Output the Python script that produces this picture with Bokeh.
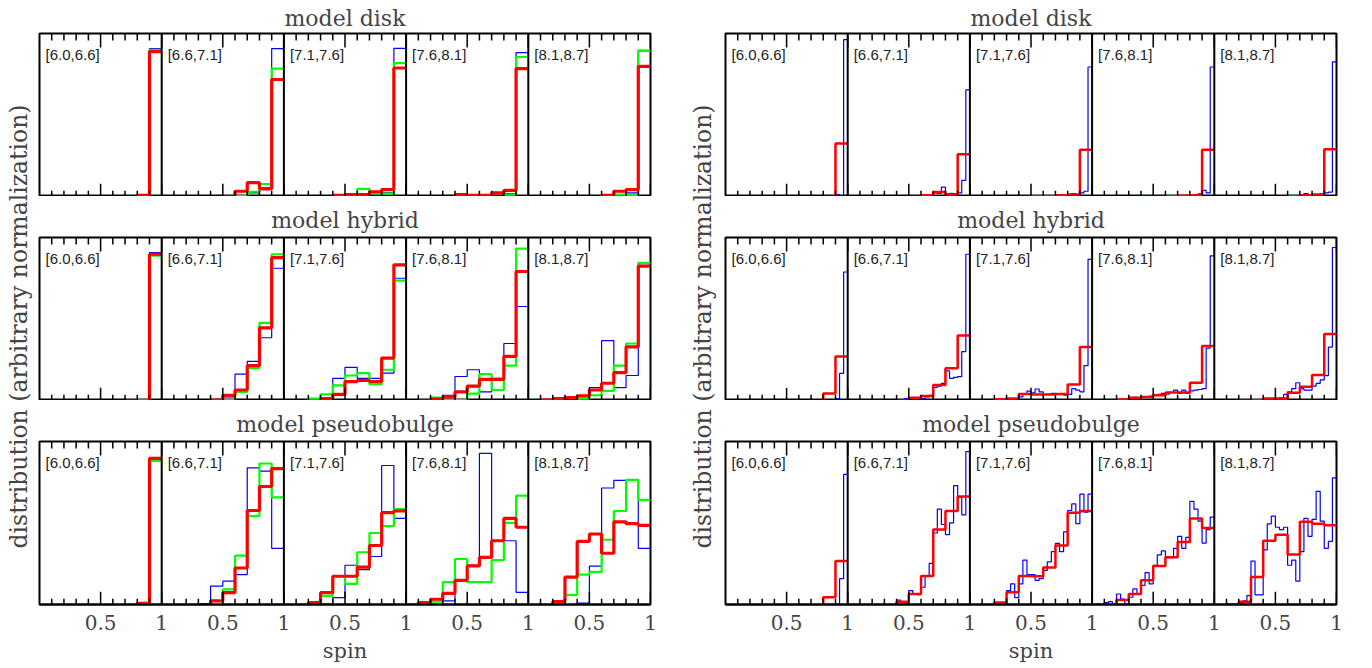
import numpy as np
from bokeh.plotting import figure
from bokeh.models import Range1d, Span, Label, LinearAxis, FixedTicker, CustomJSTickFormatter
from bokeh.layouts import row, column
from bokeh.embed import file_html
from bokeh.resources import INLINE

MODELS = ["model disk", "model hybrid", "model pseudobulge"]
MASS_BINS = ["[6.0,6.6]", "[6.6,7.1]", "[7.1,7.6]", "[7.6,8.1]", "[8.1,8.7]"]
X_LABEL = "spin"
Y_LABEL = "distribution (arbitrary normalization)"

# ---------------- left half: 10 spin bins, three series ----------------
L_DISK_BLUE = [
    [0, 0, 0, 0, 0, 0, 0, 0, 0, 0.908],
    [0, 0, 0, 0, 0, 0, 0.01, 0.03, 0.06, 0.908],
    [0, 0, 0, 0, 0, 0, 0.01, 0.02, 0.03, 0.91],
    [0, 0, 0, 0, 0, 0, 0, 0.01, 0.025, 0.884],
    [0, 0, 0, 0, 0, 0, 0, 0.005, 0.03, 0.898],
]
L_DISK_GREEN = [
    [0, 0, 0, 0, 0, 0, 0, 0, 0, 0.90],
    [0, 0, 0, 0, 0, 0, 0.01, 0.037, 0.084, 0.786],
    [0, 0, 0, 0, 0, 0.005, 0.055, 0.025, 0.025, 0.82],
    [0, 0, 0, 0, 0.01, 0, 0, 0.03, 0.02, 0.857],
    [0, 0, 0, 0, 0, 0, 0.005, 0.02, 0.015, 0.894],
]
L_DISK_RED = [
    [0, 0, 0, 0, 0, 0, 0, 0, 0.015, 0.89],
    [0, 0, 0, 0, 0, 0.005, 0.04, 0.092, 0.055, 0.72],
    [0, 0, 0, 0, 0.015, 0.02, 0.02, 0.037, 0.05, 0.79],
    [0, 0, 0, 0, 0.02, 0.015, 0.015, 0.03, 0.045, 0.786],
    [0, 0, 0, 0, 0, 0, 0.015, 0.04, 0.05, 0.80],
]
L_HYB_BLUE = [
    [0, 0, 0, 0, 0, 0, 0, 0, 0, 0.908],
    [0, 0, 0, 0, 0, 0.03, 0.168, 0.246, 0.39, 0.813],
    [0, 0, 0, 0.02, 0.143, 0.21, 0.143, 0.143, 0.174, 0.752],
    [0, 0, 0, 0.04, 0.154, 0.195, 0.06, 0.143, 0.355, 0.58],
    [0, 0, 0, 0, 0.03, 0.086, 0.373, 0.086, 0.16, 0.83],
]
L_HYB_GREEN = [
    [0, 0, 0, 0, 0, 0, 0, 0, 0.01, 0.89],
    [0, 0, 0, 0, 0, 0.01, 0.06, 0.205, 0.48, 0.898],
    [0, 0, 0.02, 0.045, 0.10, 0.16, 0.174, 0.107, 0.195, 0.738],
    [0, 0, 0.025, 0.01, 0.01, 0.05, 0.168, 0.072, 0.22, 0.932],
    [0, 0, 0, 0, 0.02, 0.04, 0.066, 0.22, 0.355, 0.846],
]
L_HYB_RED = [
    [0, 0, 0, 0, 0, 0, 0, 0.005, 0.005, 0.898],
    [0, 0, 0, 0, 0.01, 0.04, 0.072, 0.22, 0.45, 0.877],
    [0, 0, 0, 0.02, 0.045, 0.123, 0.13, 0.123, 0.266, 0.834],
    [0, 0.005, 0.016, 0.03, 0.06, 0.096, 0.137, 0.137, 0.277, 0.793],
    [0, 0.01, 0.02, 0.025, 0.037, 0.072, 0.113, 0.178, 0.334, 0.826],
]
L_PSB_BLUE = [
    [0, 0, 0, 0, 0, 0, 0.005, 0, 0, 0.90],
    [0, 0, 0, 0.014, 0.12, 0.15, 0.19, 0.84, 0.82, 0.35],
    [0, 0, 0, 0.01, 0.05, 0.247, 0.22, 0.30, 0.854, 0.532],
    [0, 0, 0, 0.03, 0.155, 0.247, 0.928, 0.396, 0.396, 0.082],
    [0, 0, 0, 0, 0.016, 0.241, 0.717, 0.763, 0.767, 0.35],
]
L_PSB_GREEN = [
    [0, 0, 0, 0, 0, 0, 0, 0, 0.016, 0.882],
    [0, 0, 0, 0, 0.01, 0.10, 0.305, 0.546, 0.866, 0.66],
    [0, 0, 0.02, 0.06, 0.18, 0.134, 0.326, 0.443, 0.485, 0.588],
    [0.005, 0.02, 0.025, 0.144, 0.285, 0.144, 0.144, 0.278, 0.505, 0.67],
    [0, 0, 0.016, 0.066, 0.19, 0.206, 0.402, 0.577, 0.767, 0.645],
]
L_PSB_RED = [
    [0, 0, 0, 0, 0, 0, 0, 0, 0.015, 0.897],
    [0, 0, 0, 0, 0.03, 0.08, 0.23, 0.58, 0.726, 0.835],
    [0, 0.005, 0.02, 0.08, 0.18, 0.18, 0.235, 0.367, 0.567, 0.577],
    [0.005, 0.02, 0.04, 0.076, 0.155, 0.243, 0.295, 0.396, 0.532, 0.478],
    [0, 0, 0.025, 0.175, 0.392, 0.437, 0.32, 0.511, 0.50, 0.49],
]

# ---------------- right half: red 10 bins, blue 30 bins ----------------
R_DISK_RED = [
    [0, 0, 0, 0, 0, 0, 0, 0, 0.005, 0.33],
    [0, 0, 0, 0, 0, 0.005, 0.015, 0.035, 0.02, 0.265],
    [0, 0, 0, 0, 0.005, 0.01, 0.01, 0.015, 0.02, 0.292],
    [0, 0, 0, 0, 0.005, 0.005, 0.01, 0.012, 0.015, 0.292],
    [0, 0, 0, 0, 0, 0, 0.01, 0.016, 0.02, 0.296],
]
R_HYB_RED = [
    [0, 0, 0, 0, 0, 0, 0, 0, 0.051, 0.276],
    [0, 0, 0, 0, 0.006, 0.025, 0.035, 0.102, 0.204, 0.404],
    [0, 0, 0.016, 0.02, 0.047, 0.045, 0.045, 0.047, 0.106, 0.333],
    [0.004, 0.004, 0.014, 0.024, 0.03, 0.04, 0.057, 0.057, 0.116, 0.34],
    [0, 0, 0.006, 0.01, 0.02, 0.02, 0.055, 0.092, 0.163, 0.412],
]
R_PSB_RED = [
    [0, 0, 0, 0, 0, 0, 0, 0, 0.052, 0.272],
    [0, 0, 0, 0.004, 0.025, 0.072, 0.181, 0.464, 0.577, 0.666],
    [0, 0.005, 0.02, 0.082, 0.181, 0.18, 0.233, 0.367, 0.567, 0.577],
    [0.004, 0.01, 0.035, 0.072, 0.155, 0.243, 0.295, 0.388, 0.532, 0.474],
    [0, 0.01, 0.025, 0.175, 0.396, 0.433, 0.313, 0.511, 0.499, 0.49],
]
R_DISK_BLUE = [
    [0, 0, 0, 0, 0, 0, 0, 0, 0, 0, 0, 0, 0, 0, 0,
     0, 0, 0, 0, 0, 0, 0, 0, 0, 0, 0, 0, 0.02, 0.01, 0.963],
    [0, 0, 0, 0, 0, 0, 0, 0, 0, 0, 0, 0, 0, 0, 0,
     0, 0, 0.005, 0.02, 0.014, 0.02, 0.03, 0.027, 0.065, 0.025, 0.027, 0.025, 0.03, 0.106, 0.657],
    [0, 0, 0, 0, 0, 0, 0, 0, 0, 0, 0, 0, 0, 0, 0,
     0, 0, 0, 0.005, 0.01, 0.01, 0.01, 0.012, 0.014, 0.02, 0.025, 0.02, 0.03, 0.04, 0.796],
    [0, 0, 0, 0, 0, 0, 0, 0, 0, 0, 0, 0, 0, 0, 0,
     0, 0, 0, 0.005, 0.006, 0.008, 0.01, 0.014, 0.01, 0.01, 0.02, 0.024, 0.045, 0.03, 0.796],
    [0, 0, 0, 0, 0, 0, 0, 0, 0, 0, 0, 0, 0, 0, 0,
     0, 0, 0, 0.006, 0.005, 0.01, 0.014, 0.026, 0.02, 0.014, 0.02, 0.024, 0.03, 0.035, 0.827],
]
R_HYB_BLUE = [
    [0, 0, 0, 0, 0, 0, 0, 0, 0, 0, 0, 0, 0, 0, 0,
     0, 0, 0, 0, 0, 0, 0, 0, 0, 0, 0.004, 0.006, 0.02, 0.173, 0.79],
    [0, 0, 0, 0, 0, 0, 0, 0, 0, 0, 0, 0, 0.006, 0.01, 0.02,
     0.025, 0.02, 0.016, 0.02, 0.03, 0.04, 0.088, 0.096, 0.112, 0.188, 0.143, 0.149, 0.153, 0.306, 0.898],
    [0, 0, 0, 0, 0, 0, 0.006, 0.008, 0.01, 0.014, 0.02, 0.02, 0.03, 0.05, 0.065,
     0.055, 0.078, 0.06, 0.045, 0.045, 0.051, 0.047, 0.045, 0.041, 0.045, 0.08, 0.071, 0.061, 0.22, 0.867],
    [0, 0, 0, 0, 0, 0, 0.004, 0.006, 0.006, 0.008, 0.027, 0.02, 0.031, 0.027, 0.035,
     0.041, 0.045, 0.051, 0.047, 0.057, 0.071, 0.051, 0.071, 0.051, 0.067, 0.071, 0.075, 0.08, 0.327, 0.888],
    [0, 0, 0, 0, 0, 0, 0, 0, 0, 0.014, 0.01, 0.01, 0.012, 0.014, 0.016,
     0.02, 0.024, 0.045, 0.061, 0.08, 0.116, 0.08, 0.071, 0.071, 0.096, 0.112, 0.133, 0.159, 0.333, 0.939],
]
R_PSB_BLUE = [
    [0, 0, 0, 0, 0, 0, 0, 0, 0, 0, 0, 0, 0, 0, 0,
     0, 0, 0, 0, 0, 0, 0, 0, 0, 0, 0, 0, 0.01, 0.165, 0.80],
    [0, 0, 0, 0, 0, 0, 0, 0, 0, 0, 0, 0.01, 0.035, 0.02, 0.014,
     0.093, 0.072, 0.068, 0.113, 0.18, 0.258, 0.443, 0.588, 0.495, 0.433, 0.505, 0.732, 0.66, 0.553, 0.938],
    [0, 0, 0, 0, 0, 0, 0.005, 0.01, 0.02, 0.093, 0.134, 0.05, 0.134, 0.278, 0.19,
     0.19, 0.155, 0.165, 0.216, 0.268, 0.33, 0.38, 0.33, 0.45, 0.58, 0.62, 0.50, 0.68, 0.57, 0.68],
    [0, 0.01, 0.006, 0.02, 0.025, 0.014, 0.072, 0.041, 0.01, 0.052, 0.103, 0.072, 0.124, 0.202, 0.134,
     0.247, 0.31, 0.334, 0.293, 0.293, 0.35, 0.423, 0.35, 0.416, 0.635, 0.588, 0.515, 0.381, 0.464, 0.54],
    [0, 0, 0, 0, 0, 0, 0.01, 0.03, 0.062, 0.272, 0.066, 0.066, 0.34, 0.499, 0.546,
     0.478, 0.464, 0.478, 0.247, 0.278, 0.15, 0.33, 0.532, 0.423, 0.526, 0.697, 0.515, 0.35, 0.392, 0.779],
]

BLUE, GREEN, RED = "#0000ff", "#00ff00", "#ff0000"
SERIF = "DejaVu Serif"
SANS = "Liberation Sans"
FW, FH = 611, 163
BORDERS_TOP = [25, 41, 41]
TITLE_STANDOFF = [6, 10, 10]
BOTTOM_LAST = 55
TOTAL_H = sum(BORDERS_TOP) + 3 * FH + BOTTOM_LAST
Y0 = 0.008  # baseline sits just under the frame edge

MAJOR = [0.5 * i for i in range(1, 11)]
MINOR = [round(0.1 * i, 1) for i in range(1, 50) if i % 5 != 0]
fmt = CustomJSTickFormatter(code="return (Math.abs(tick - Math.round(tick)) > 0.25) ? '0.5' : '1';")


def label_axis():
    ax = LinearAxis(ticker=FixedTicker(ticks=MAJOR, minor_ticks=MINOR), formatter=fmt,
                    major_tick_in=0, major_tick_out=0, minor_tick_in=0, minor_tick_out=0,
                    axis_line_width=2)
    ax.major_label_text_font = SERIF
    ax.major_label_text_font_size = "20px"
    ax.major_label_standoff = 10
    ax.axis_label = X_LABEL
    ax.axis_label_text_font = SERIF
    ax.axis_label_text_font_size = "21px"
    ax.axis_label_text_font_style = "normal"
    ax.axis_label_standoff = 6
    return ax


def add_ticks(p):
    # inward tick marks on the bottom and top frame edges
    for y, ang in ((0, np.pi / 2), (1, -np.pi / 2)):
        p.ray(x=MAJOR, y=[y] * len(MAJOR), length=14, angle=ang, length_units="screen",
              line_color="black", line_width=1.5)
        p.ray(x=MINOR, y=[y] * len(MINOR), length=7, angle=ang, length_units="screen",
              line_color="black", line_width=1.5)


def make_row(r, series, left_b, right_b):
    last = (r == 2)
    p = figure(frame_width=FW, frame_height=FH, x_range=Range1d(0, 5), y_range=Range1d(Y0, 1),
               output_backend="svg", toolbar_location=None,
               x_axis_location=None, y_axis_location=None,
               min_border_top=BORDERS_TOP[r], min_border_bottom=(BOTTOM_LAST if last else 0),
               min_border_left=left_b, min_border_right=right_b)
    p.grid.visible = False
    p.outline_line_color = "black"
    p.outline_line_width = 2
    p.title.text = MODELS[r]
    p.title.align = "center"
    p.title.text_font = SERIF
    p.title.text_font_size = "22px"
    p.title.text_font_style = "normal"
    p.title.standoff = TITLE_STANDOFF[r]
    if last:
        p.add_layout(label_axis(), "below")
    for c in range(5):
        for vals, color, lw in series:
            v = list(vals[c])
            n = len(v)
            edges = c + np.arange(n + 1) / n
            p.step(x=edges, y=v + [v[-1]], mode="after", line_color=color, line_width=lw)
        p.add_layout(Label(x=c, y=1, x_offset=6, y_offset=-12, text=MASS_BINS[c],
                           text_font=SANS, text_font_size="15px", text_baseline="top",
                           text_color="#222222"))
    add_ticks(p)
    for c in range(1, 5):
        p.add_layout(Span(location=c, dimension="height", line_color="black", line_width=2))
    return p


def ylabel_fig(width, xc):
    p = figure(width=width, height=TOTAL_H, x_range=Range1d(0, width), y_range=Range1d(0, TOTAL_H),
               output_backend="svg", toolbar_location=None,
               x_axis_location=None, y_axis_location=None, min_border=0)
    p.grid.visible = False
    p.outline_line_color = None
    p.add_layout(Label(x=xc, y=TOTAL_H - 326, text=Y_LABEL, angle=np.pi / 2,
                       text_align="center", text_baseline="middle",
                       text_font=SERIF, text_font_size="23.5px"))
    return p


left_series = [
    [(L_DISK_BLUE, BLUE, 1.2), (L_DISK_GREEN, GREEN, 2.2), (L_DISK_RED, RED, 3.2)],
    [(L_HYB_BLUE, BLUE, 1.2), (L_HYB_GREEN, GREEN, 2.2), (L_HYB_RED, RED, 3.2)],
    [(L_PSB_BLUE, BLUE, 1.2), (L_PSB_GREEN, GREEN, 2.2), (L_PSB_RED, RED, 3.2)],
]
right_series = [
    [(R_DISK_BLUE, BLUE, 1.2), (R_DISK_RED, RED, 2.5)],
    [(R_HYB_BLUE, BLUE, 1.2), (R_HYB_RED, RED, 2.5)],
    [(R_PSB_BLUE, BLUE, 1.2), (R_PSB_RED, RED, 2.5)],
]

left_rows = column(*[make_row(r, left_series[r], 2, 8) for r in range(3)], spacing=0)
right_rows = column(*[make_row(r, right_series[r], 2, 8) for r in range(3)], spacing=0)
layout = row(ylabel_fig(37, 18), left_rows, ylabel_fig(65, 44), right_rows, spacing=0)

open("out.html", "w").write(file_html(layout, INLINE))
